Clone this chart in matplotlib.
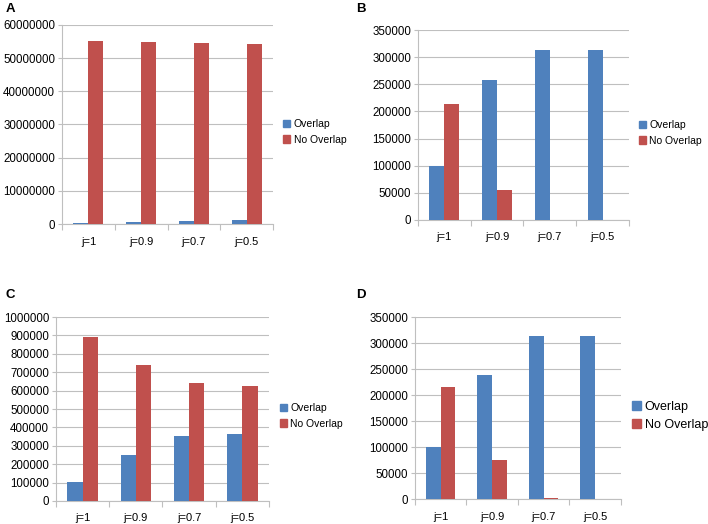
import matplotlib.pyplot as plt
import numpy as np
from matplotlib.patches import Patch
from matplotlib.ticker import MultipleLocator, FuncFormatter

plt.rcParams['font.family'] = ['Liberation Sans', 'DejaVu Sans']

# —–––– Data —––––
categories = ['j=1', 'j=0.9', 'j=0.7', 'j=0.5']
series_names = ['Overlap', 'No Overlap']

a_overlap = [200000, 500000, 900000, 1200000]
a_no_overlap = [55200000, 54900000, 54500000, 54200000]

b_overlap = [100000, 257500, 313300, 313300]
b_no_overlap = [213400, 55200, 0, 0]

c_overlap = [101000, 251000, 351000, 365000]
c_no_overlap = [890000, 738000, 640000, 626000]

d_overlap = [99500, 239500, 314000, 314000]
d_no_overlap = [216400, 75100, 1500, 0]

# —–––– Style —––––
blue = '#4F81BD'
red = '#C0504D'
grid_col = '#BFBFBF'
bar_w = 1 / 3.5

fig = plt.figure(figsize=(7.08, 5.24), dpi=100)

panels = [
    # label, overlap, no overlap, ymax, step, axes rect, legend anchor, legend fontsize, label pos
    ('A', a_overlap, a_no_overlap, 60000000, 10000000,
     [0.0876, 0.5725, 0.298, 0.380], (0.400, 0.748), 7.5, (0.008, 0.983)),
    ('B', b_overlap, b_no_overlap, 350000, 50000,
     [0.5904, 0.5802, 0.298, 0.3625], (0.9025, 0.746), 7.5, (0.503, 0.983)),
    ('C', c_overlap, c_no_overlap, 1000000, 100000,
     [0.0791, 0.0439, 0.3008, 0.3511], (0.395, 0.206), 7.5, (0.008, 0.437)),
    ('D', d_overlap, d_no_overlap, 350000, 50000,
     [0.586, 0.0477, 0.291, 0.347], (0.893, 0.206), 9, (0.503, 0.437)),
]

x = np.arange(len(categories))

for label, ov, nov, ymax, step, rect, leg_pos, leg_fs, lab_pos in panels:
    ax = fig.add_axes(rect)
    ax.bar(x - bar_w / 2, ov, width=bar_w, color=blue, zorder=3)
    ax.bar(x + bar_w / 2, nov, width=bar_w, color=red, zorder=3)

    ax.set_xlim(-0.5, len(categories) - 0.5)
    ax.set_ylim(0, ymax)
    ax.yaxis.set_major_locator(MultipleLocator(step))
    ax.yaxis.set_major_formatter(FuncFormatter(lambda v, p: '%d' % v))
    ax.grid(axis='y', color=grid_col, linewidth=0.8, zorder=0)

    # category labels in the middle, tick marks between categories
    ax.set_xticks(x)
    ax.set_xticklabels(categories, fontsize=8)
    ax.tick_params(axis='x', which='major', length=0, pad=9)
    ax.set_xticks(np.arange(-0.5, len(categories)), minor=True)
    ax.tick_params(axis='x', which='minor', length=4, color=grid_col, width=0.8)
    ax.tick_params(axis='y', labelsize=8.3, length=3, color=grid_col, width=0.8, pad=2)

    for s in ['top', 'right']:
        ax.spines[s].set_visible(False)
    for s in ['left', 'bottom']:
        ax.spines[s].set_color(grid_col)
        ax.spines[s].set_linewidth(0.8)

    handles = [Patch(color=blue), Patch(color=red)]
    ax.legend(handles, series_names, loc='center left', bbox_to_anchor=leg_pos,
              bbox_transform=fig.transFigure, frameon=False, fontsize=leg_fs,
              handlelength=0.7, handleheight=0.7, handletextpad=0.3,
              borderpad=0, borderaxespad=0, labelspacing=0.5)

    fig.text(lab_pos[0], lab_pos[1], label, fontsize=9.5, fontweight='bold',
             ha='left', va='center')

fig.savefig('out.png', dpi=100)
